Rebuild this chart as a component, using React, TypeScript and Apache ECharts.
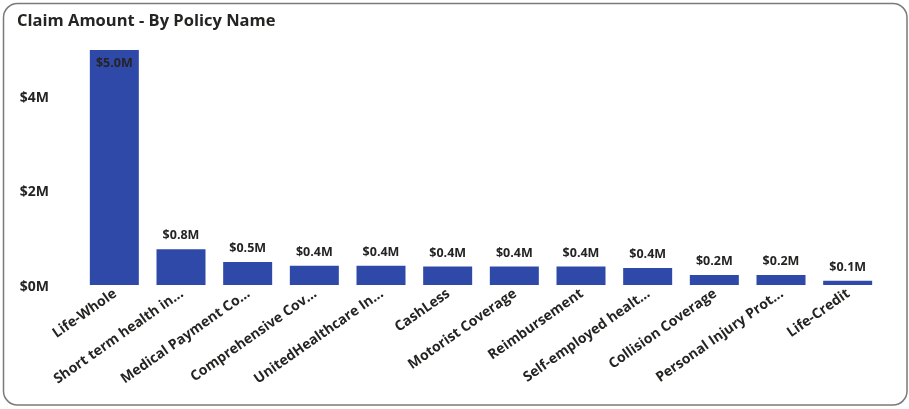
import React, { useEffect, useRef } from "react";
import * as echarts from "echarts";

const categories = [
  "Life-Whole",
  "Short term health in...",
  "Medical Payment Co...",
  "Comprehensive Cov...",
  "UnitedHealthcare In...",
  "CashLess",
  "Motorist Coverage",
  "Reimbursement",
  "Self-employed healt...",
  "Collision Coverage",
  "Personal Injury Prot...",
  "Life-Credit",
];
const claimAmounts = [4.98, 0.76, 0.49, 0.41, 0.41, 0.39, 0.39, 0.39, 0.36, 0.21, 0.21, 0.09];
const yTicks = [0, 2, 4, 6];

const TITLE = "Claim Amount - By Policy Name";
const FONT = "'Open Sans', 'Noto Sans', sans-serif";
const TEXT = "#252423";
const BAR = "#2f49a9";

export default function App() {
  const ref = useRef<HTMLDivElement>(null);
  useEffect(() => {
    if (!ref.current) return;
    const chart = echarts.init(ref.current, undefined, { renderer: "svg" });
    chart.setOption({
      animation: false,
      textStyle: { fontFamily: FONT },
      graphic: [
        {
          type: "rect",
          shape: { x: 3.5, y: 3.5, width: 903.5, height: 401.5, r: 14 },
          style: { fill: "#fff", stroke: "#7a7a7a", lineWidth: 1.5 },
          z: -10,
          silent: true,
        },
        {
          type: "text",
          x: 17,
          y: 11,
          style: {
            text: TITLE,
            fill: TEXT,
            font: `700 16.5px ${FONT}`,
          },
        },
      ],
      grid: { left: 81, right: 28, top: 2, bottom: 124 },
      xAxis: {
        type: "category",
        data: categories,
        axisLine: { show: false },
        axisTick: { show: false },
        axisLabel: {
          rotate: 35,
          interval: 0,
          margin: 6,
          color: TEXT,
          fontSize: 14,
          fontWeight: 700,
          fontFamily: FONT,
        },
      },
      yAxis: {
        type: "value",
        min: yTicks[0] * 1e6,
        max: yTicks[yTicks.length - 1] * 1e6,
        interval: (yTicks[1] - yTicks[0]) * 1e6,
        splitLine: { show: false },
        axisLine: { show: false },
        axisTick: { show: false },
        axisLabel: {
          showMaxLabel: false,
          margin: 32,
          color: TEXT,
          fontSize: 14,
          fontWeight: 700,
          fontFamily: FONT,
          formatter: (v: number) => `$${Math.round(v / 1e6)}M`,
        },
      },
      series: [
        {
          type: "bar",
          barWidth: 49,
          data: claimAmounts.map((v, i) =>
            i === 0
              ? { value: v * 1e6, label: { position: "insideTop", distance: 6 } }
              : v * 1e6
          ),
          itemStyle: { color: BAR },
          label: {
            show: true,
            position: "top",
            distance: 8,
            color: TEXT,
            fontSize: 12.5,
            fontWeight: 700,
            fontFamily: FONT,
            formatter: (p: any) => `$${(p.value / 1e6).toFixed(1)}M`,
          },
        },
      ],
    });
    return () => chart.dispose();
  }, []);
  return (
    <div
      ref={ref}
      style={{ position: "fixed", left: 0, top: 0, width: 909, height: 409 }}
    />
  );
}
